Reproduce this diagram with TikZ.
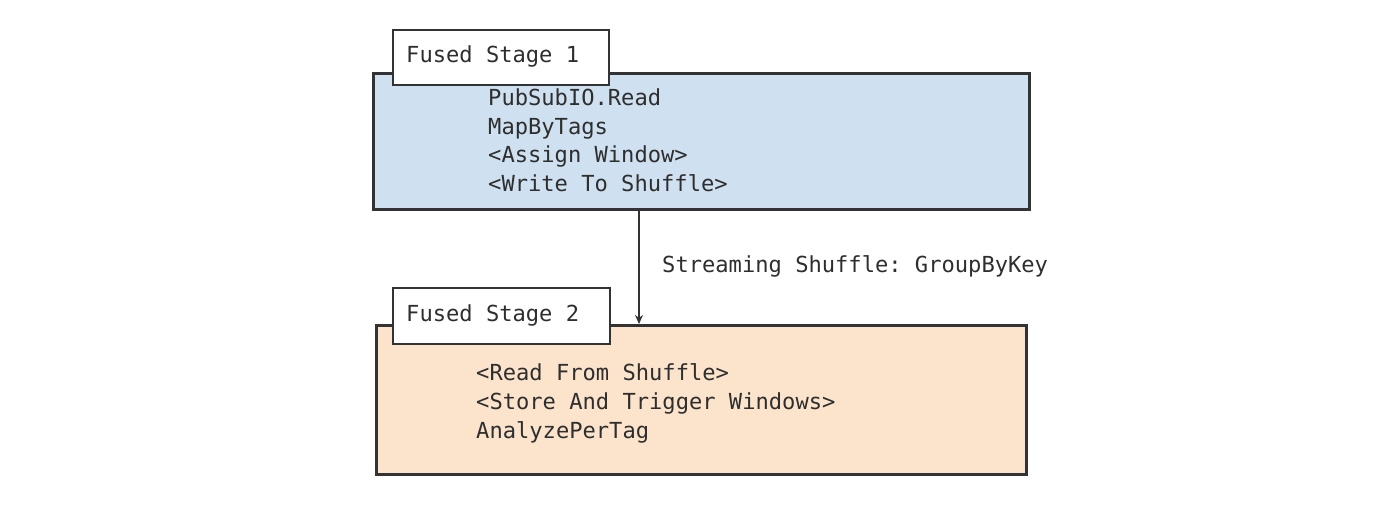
\documentclass[tikz,border=0pt]{standalone}
\usepackage{fontspec}
\setmonofont{DejaVu Sans Mono}
\usetikzlibrary{arrows.meta}
\definecolor{stageblue}{HTML}{CFE0F1}
\definecolor{stageorange}{HTML}{FCE4CC}
\definecolor{edgegray}{HTML}{333333}
\definecolor{textgray}{HTML}{2E2E2E}
\tikzset{
  stagebox/.style={draw=edgegray, line width=2.6pt, inner sep=0pt, anchor=north west},
  tagbox/.style={draw=edgegray, fill=white, line width=1.6pt, inner sep=0pt, anchor=north west},
  code/.style={text=textgray, font=\ttfamily\fontsize{22.1}{28}\selectfont, inner sep=0pt, anchor=base west},
  flow/.style={draw=edgegray, line width=1.6pt, -{Stealth[length=9pt,width=8pt]}}
}
\begin{document}
\begin{tikzpicture}[x=1pt,y=-1pt]
\useasboundingbox (0,0) rectangle (1400,521);
% stage boxes
\node[stagebox, fill=stageblue, minimum width=656pt, minimum height=136pt] (stage1) at (372,72) {};
\node[stagebox, fill=stageorange, minimum width=650pt, minimum height=149pt] (stage2) at (375,324) {};
% tag boxes
\node[tagbox, minimum width=216pt, minimum height=55pt] (tag1) at (392,29) {};
\node[code] (tag1text) at (406,63) {Fused Stage 1};
\node[tagbox, minimum width=217pt, minimum height=56pt] (tag2) at (392,287) {};
\node[code] (tag2text) at (406,322) {Fused Stage 2};
% stage 1 contents
\node[code] (s1a) at (488,106) {PubSubIO.Read};
\node[code] (s1b) at (488,134.5) {MapByTags};
\node[code] (s1c) at (488,163) {<Assign Window>};
\node[code] (s1d) at (488,191.5) {<Write To Shuffle>};
% stage 2 contents
\node[code] (s2a) at (476,380) {<Read From Shuffle>};
\node[code] (s2b) at (476,409) {<Store And Trigger Windows>};
\node[code] (s2c) at (476,438) {AnalyzePerTag};
% connector
\coordinate (ax) at (639,0);
\draw[flow] (stage1.south -| ax) -- (stage2.north -| ax);
\node[code] (shuffle) at (662,273) {Streaming Shuffle: GroupByKey};
\end{tikzpicture}
\end{document}
